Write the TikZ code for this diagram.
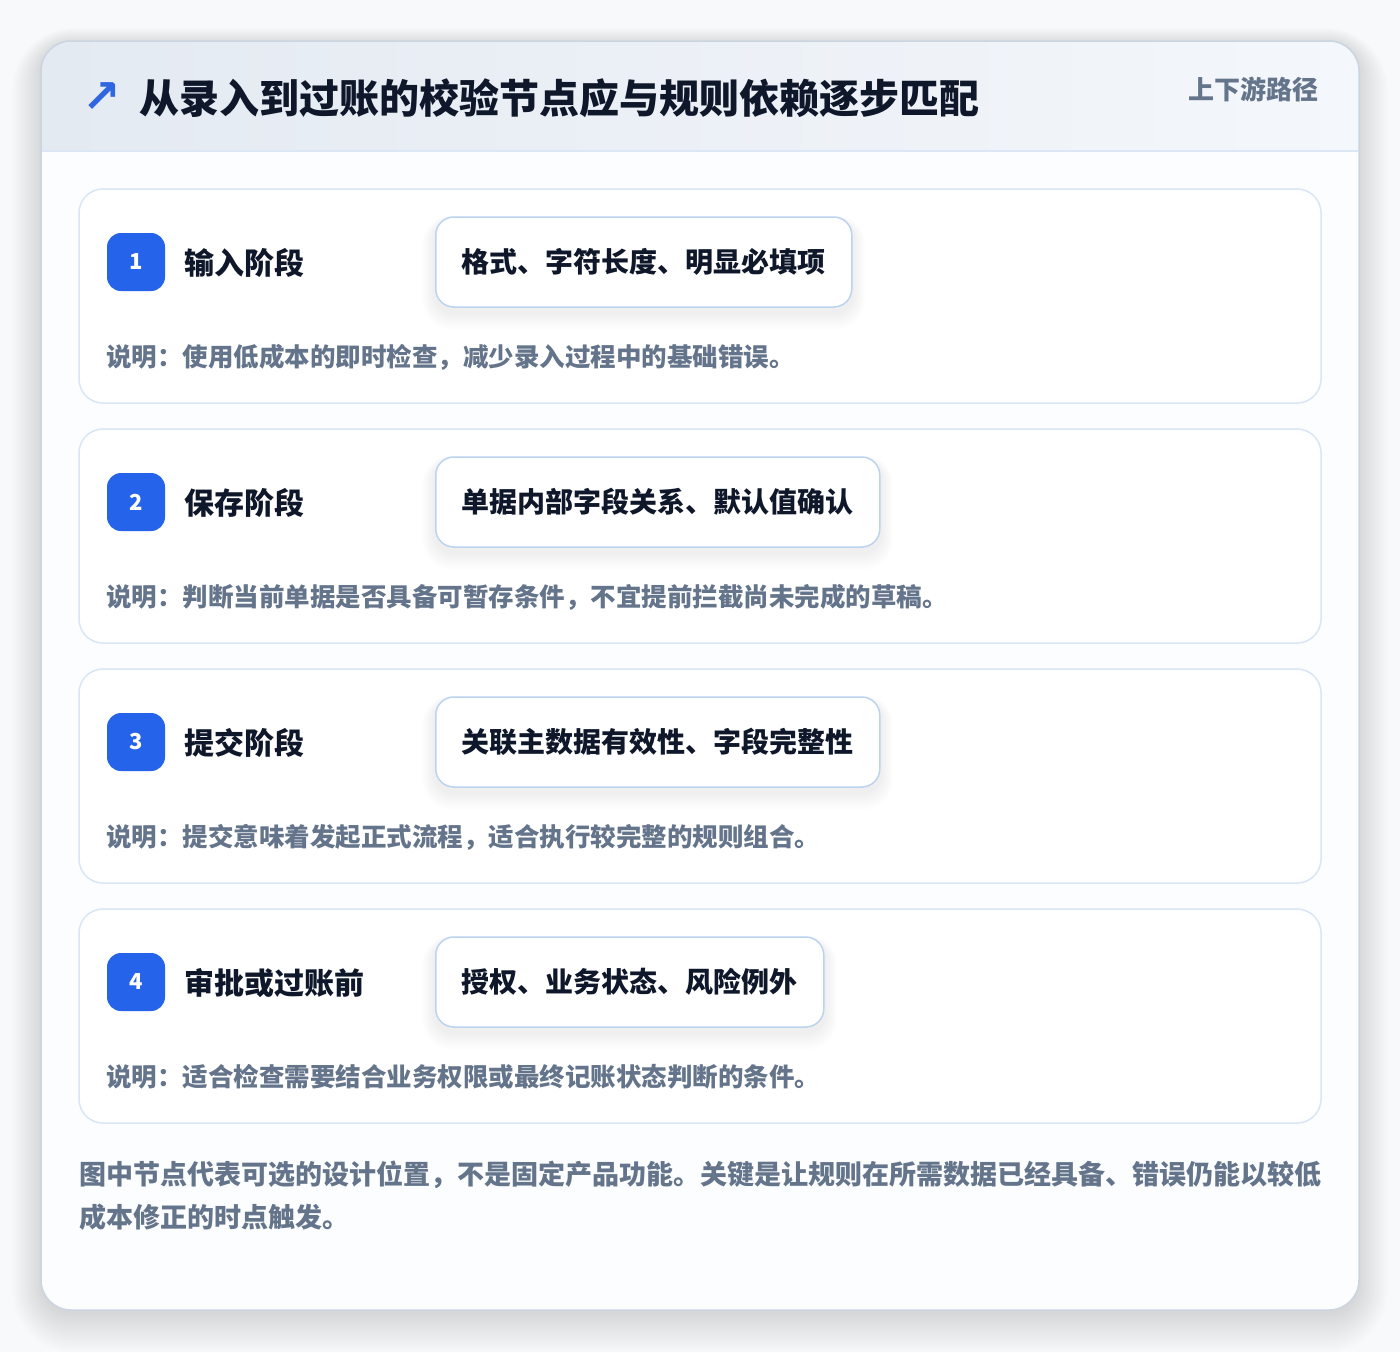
\documentclass[tikz,border=0pt]{standalone}
\usepackage{fontspec}
\setmainfont{Noto Sans CJK SC}
\newfontfamily\symfont{DejaVu Sans}
\usetikzlibrary{calc}
\pgfdeclarelayer{back}
\pgfdeclarelayer{cards}
\pgfdeclarelayer{shadows}
\pgfsetlayers{back,cards,shadows,main}
\definecolor{pagebg}{HTML}{F8F9FA}
\definecolor{cardfill}{HTML}{FCFDFE}
\definecolor{cardline}{HTML}{CBD5E1}
\definecolor{headL}{HTML}{E4EAF2}
\definecolor{headR}{HTML}{F4F7FB}
\definecolor{headline}{HTML}{DBE7F5}
\definecolor{stepline}{HTML}{D9E6F6}
\definecolor{ruleline}{HTML}{BCD3F0}
\definecolor{badgeblue}{HTML}{2563EB}
\definecolor{arrowblue}{HTML}{3067E0}
\definecolor{darktext}{HTML}{0F172A}
\definecolor{muted}{HTML}{64748B}
\tikzset{
  stepcard/.style={draw=stepline, line width=1.5pt, fill=white, rounded corners=24},
  badge/.style={fill=badgeblue, rounded corners=14, minimum width=58, minimum height=58, inner sep=0, text=white, font=\fontsize{22}{26}\selectfont\bfseries},
  steplabel/.style={anchor=west, inner sep=0, text=darktext, font=\fontsize{30}{36}\selectfont\bfseries},
  rulebox/.style={draw=ruleline, line width=1.5pt, fill=white, rounded corners=18, inner xsep=26, inner ysep=0, minimum height=90, text=darktext, font=\fontsize{28}{34}\selectfont\bfseries},
  desc/.style={anchor=west, inner sep=0, text=muted, font=\fontsize{25.5}{30}\selectfont\bfseries},
}
\begin{document}
\begin{tikzpicture}[x=1pt,y=-1pt]
\useasboundingbox (0,0) rectangle (1400,1352);
\begin{pgfonlayer}{back}
\fill[pagebg] (0,0) rectangle (1400,1352);
% card shadow
\foreach \i in {0,...,16} {
  \fill[black, opacity=0.006, rounded corners=30+\i*2] (41-\i*1.8, 44-\i*1.0) rectangle (1359+\i*1.8, 1314+\i*2.4);
}
% main card
\fill[cardfill, rounded corners=30] (41,41) rectangle (1359,1310);
\begin{scope}
  \clip[rounded corners=30] (41,41) rectangle (1359,1310);
  \shade[left color=headL, right color=headR] (41,41) rectangle (1359,151);
\end{scope}
\draw[headline, line width=1.5pt] (42,151) -- (1358,151);
\draw[cardline, line width=1.5pt, rounded corners=30] (41,41) rectangle (1359,1310);
\end{pgfonlayer}
% header texts
\node[anchor=center, inner sep=0, text=arrowblue, font=\symfont\bfseries\fontsize{46}{46}\selectfont] (arrow) at (102,98) {↗};
\node[anchor=west, inner sep=0, text=darktext, font=\fontsize{40}{48}\selectfont\bfseries] (title) at (139,98) {从录入到过账的校验节点应与规则依赖逐步匹配};
\node[anchor=east, inner sep=0, text=muted, font=\fontsize{26}{30}\selectfont\bfseries] (tag) at (1319,89) {上下游路径};
% steps
\foreach \n/\lab/\rule/\dsc in {
  1/输入阶段/格式、字符长度、明显必填项/说明：使用低成本的即时检查，减少录入过程中的基础错误。,
  2/保存阶段/单据内部字段关系、默认值确认/说明：判断当前单据是否具备可暂存条件，不宜提前拦截尚未完成的草稿。,
  3/提交阶段/关联主数据有效性、字段完整性/说明：提交意味着发起正式流程，适合执行较完整的规则组合。,
  4/审批或过账前/授权、业务状态、风险例外/说明：适合检查需要结合业务权限或最终记账状态判断的条件。} {
  \pgfmathsetmacro{\off}{240*(\n-1)}
  \begin{pgfonlayer}{cards}
  \draw[stepcard] (79,189+\off) rectangle (1321,403+\off);
  \end{pgfonlayer}
  \node[badge] (badge\n) at (136,262+\off) {\n};
  \node[steplabel] (label\n) at (184,263+\off) {\lab};
  \node[rulebox, anchor=west] (rule\n) at (435,262+\off) {\rule};
  \begin{pgfonlayer}{shadows}
  \foreach \k in {1,...,8} {
    \fill[black, opacity=0.006, rounded corners=18+\k*1.5] ($(rule\n.north west)+(-\k*1.6,4-\k*0.6)$) rectangle ($(rule\n.south east)+(\k*1.6,4+\k*2.2)$);
  }
  \end{pgfonlayer}
  \node[desc] (desc\n) at (106,357+\off) {\dsc};
}
% footer
\node[anchor=west, inner sep=0, text=muted, font=\fontsize{27}{32}\selectfont\bfseries] (foot1) at (79,1175) {图中节点代表可选的设计位置，不是固定产品功能。关键是让规则在所需数据已经具备、错误仍能以较低};
\node[anchor=west, inner sep=0, text=muted, font=\fontsize{27}{32}\selectfont\bfseries] (foot2) at (79,1217) {成本修正的时点触发。};
\end{tikzpicture}
\end{document}
